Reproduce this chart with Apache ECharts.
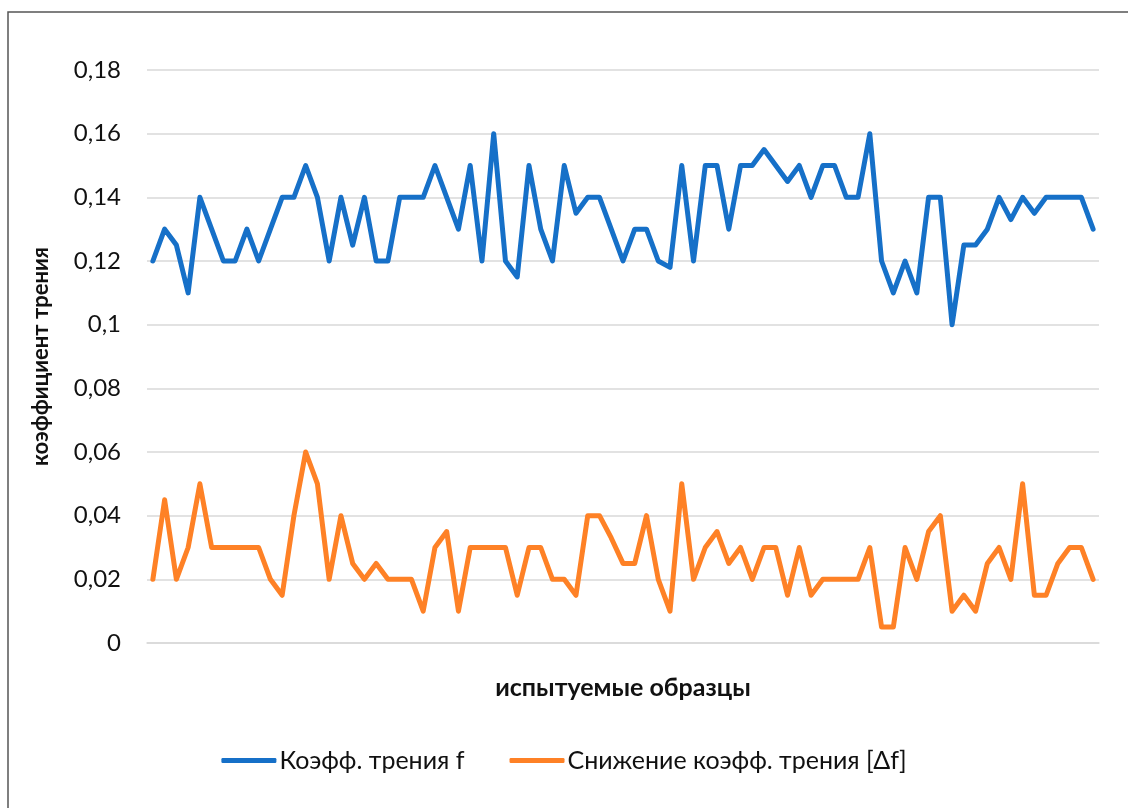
<!DOCTYPE html>
<html>
<head>
<meta charset="utf-8">
<script src="https://cdn.jsdelivr.net/npm/echarts@6/dist/echarts.min.js"></script>
<style>
html,body{margin:0;padding:0;background:#fff;}
#chart{width:1128px;height:808px;}
</style>
</head>
<body>
<div id="chart"></div>
<script>
var seriesNames = ['Коэфф. трения f', 'Снижение коэфф. трения [Δf]'];
var xAxisTitle = 'испытуемые образцы';
var yAxisTitle = 'коэффициент трения';
var yTicks = [0, 0.02, 0.04, 0.06, 0.08, 0.1, 0.12, 0.14, 0.16, 0.18];

var frictionF = [
  0.12,0.13,0.125,0.11,0.14,0.13,0.12,0.12,0.13,0.12,
  0.13,0.14,0.14,0.15,0.14,0.12,0.14,0.125,0.14,0.12,
  0.12,0.14,0.14,0.14,0.15,0.14,0.13,0.15,0.12,0.16,
  0.12,0.115,0.15,0.13,0.12,0.15,0.135,0.14,0.14,0.13,
  0.12,0.13,0.13,0.12,0.118,0.15,0.12,0.15,0.15,0.13,
  0.15,0.15,0.155,0.15,0.145,0.15,0.14,0.15,0.15,0.14,
  0.14,0.16,0.12,0.11,0.12,0.11,0.14,0.14,0.10,0.125,
  0.125,0.13,0.14,0.133,0.14,0.135,0.14,0.14,0.14,0.14,0.13
];
var frictionDrop = [
  0.02,0.045,0.02,0.03,0.05,0.03,0.03,0.03,0.03,0.03,
  0.02,0.015,0.04,0.06,0.05,0.02,0.04,0.025,0.02,0.025,
  0.02,0.02,0.02,0.01,0.03,0.035,0.01,0.03,0.03,0.03,
  0.03,0.015,0.03,0.03,0.02,0.02,0.015,0.04,0.04,0.033,
  0.025,0.025,0.04,0.02,0.01,0.05,0.02,0.03,0.035,0.025,
  0.03,0.02,0.03,0.03,0.015,0.03,0.015,0.02,0.02,0.02,
  0.02,0.03,0.005,0.005,0.03,0.02,0.035,0.04,0.01,0.015,
  0.01,0.025,0.03,0.02,0.05,0.015,0.015,0.025,0.03,0.03,0.02
];
var categories = frictionF.map(function(_, i){ return String(i + 1); });

var FONT = 'Lato, "Open Sans", sans-serif';
var chart = echarts.init(document.getElementById('chart'), null, {renderer:'canvas'});
chart.setOption({
  backgroundColor: '#fff',
  animation: false,
  graphic: [{
    type: 'rect',
    shape: {x: 8, y: 12, width: 1140, height: 820},
    style: {fill: 'none', stroke: '#555', lineWidth: 1.5},
    silent: true
  }],
  grid: {left: 147, right: 29, top: 70, bottom: 165, containLabel: false},
  legend: {
    data: seriesNames,
    top: 743,
    left: 'center',
    itemWidth: 55,
    itemHeight: 5,
    itemGap: 45,
    icon: 'roundRect',
    textStyle: {fontFamily: FONT, fontSize: 25, color: '#111', padding: [0,0,0,-2]}
  },
  xAxis: {
    type: 'category',
    data: categories,
    boundaryGap: true,
    axisLine: {show: true, lineStyle: {color: '#d9d9d9', width: 1.5}},
    axisTick: {show: false},
    axisLabel: {show: false},
    splitLine: {show: false},
    name: xAxisTitle,
    nameLocation: 'middle',
    nameGap: 32,
    nameTextStyle: {fontFamily: FONT, fontSize: 25, fontWeight: 'bold', color: '#111'}
  },
  yAxis: {
    type: 'value',
    min: yTicks[0],
    max: yTicks[yTicks.length - 1],
    interval: 0.02,
    axisLine: {show: false},
    axisTick: {show: false},
    splitLine: {lineStyle: {color: '#d9d9d9', width: 1.5}},
    axisLabel: {
      fontFamily: FONT, fontSize: 24, color: '#111', margin: 26,
      formatter: function(v){
        var s = String(+v.toFixed(3));
        return s.replace('.', ',');
      }
    },
    name: yAxisTitle,
    nameLocation: 'middle',
    nameGap: 95,
    nameTextStyle: {fontFamily: FONT, fontSize: 22, fontWeight: 'bold', color: '#111'}
  },
  series: [
    {
      name: seriesNames[0], type: 'line', data: frictionF,
      symbol: 'none', smooth: false,
      lineStyle: {color: '#1670C8', width: 5, join: 'round', cap: 'round'},
      itemStyle: {color: '#1670C8'}
    },
    {
      name: seriesNames[1], type: 'line', data: frictionDrop,
      symbol: 'none', smooth: false,
      lineStyle: {color: '#FE8126', width: 5, join: 'round', cap: 'round'},
      itemStyle: {color: '#FE8126'}
    }
  ]
});
</script>
</body>
</html>
